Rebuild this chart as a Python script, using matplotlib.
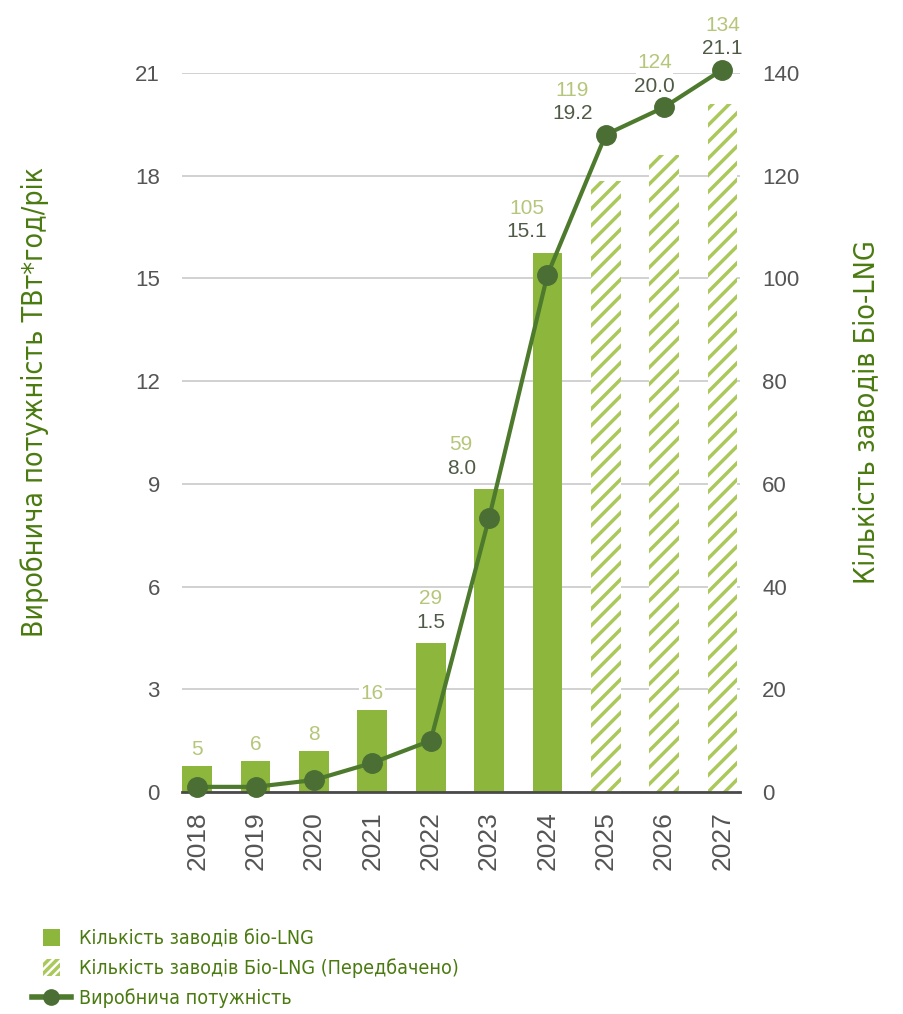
import numpy as np
import matplotlib
matplotlib.use('Agg')
import matplotlib.pyplot as plt
from matplotlib import font_manager
from matplotlib.font_manager import FontProperties
from matplotlib.patches import Patch, Rectangle
from matplotlib.lines import Line2D
from matplotlib.legend_handler import HandlerPatch

# дані: кількість заводів і виробнича потужність по роках
roky = ['2018', '2019', '2020', '2021', '2022', '2023', '2024', '2025', '2026', '2027']
zavody = [5, 6, 8, 16, 29, 59, 105, 119, 124, 134]
prognoz = [False, False, False, False, False, False, False, True, True, True]
potuzhnist = [0.15, 0.15, 0.35, 0.85, 1.5, 8.0, 15.1, 19.2, 20.0, 21.1]
pidpys_potuzhnosti = [False, False, False, False, True, True, True, True, True, True]

ZELENYI = '#8cb63c'
SHTRYKH = '#aac95a'
LINIJA = '#4e7a2e'
MARKER = '#4b6e35'
TEMNO_ZELENYI = '#4a7a10'
SVITLYI_PIDPYS = '#b5c67a'
TEMNYI_PIDPYS = '#4f5b46'
SIRYI = '#555555'

plt.rcParams['font.family'] = ['Liberation Sans', 'DejaVu Sans']
plt.rcParams['hatch.linewidth'] = 2.5

# вузький шрифт для назв осей і легенди, якщо є в системі
vuzkyi_fajl = None
for fe in font_manager.fontManager.ttflist:
    fn = fe.fname.lower()
    if ('condensed' in fn or 'narrow' in fn) and not any(
            s in fn for s in ['bold', 'oblique', 'italic', 'light', 'thin', 'black', 'medium']):
        vuzkyi_fajl = fe.fname
        break
if vuzkyi_fajl:
    vuzkyi = FontProperties(fname=vuzkyi_fajl)
else:
    vuzkyi = FontProperties(family='Roboto')

fig = plt.figure(figsize=(9.04, 10.14), dpi=100)
renderer = fig.canvas.get_renderer()


def rozmir(tekst, dovzhyna_px):
    # розмір шрифту, при якому текст займає задану довжину
    p = vuzkyi.copy()
    p.set_size(20)
    w, h, d = renderer.get_text_width_height_descent(tekst, p, ismath=False)
    return 20 * dovzhyna_px / w


ax = fig.add_axes([182 / 904, 1 - 792 / 1014, (740 - 182) / 904, (792 - 73) / 1014])
ax2 = ax.twinx()
ax.set_zorder(ax2.get_zorder() + 1)
ax.patch.set_visible(False)

x = np.arange(len(roky))

# стовпчики - права вісь
for i in range(len(roky)):
    if prognoz[i]:
        ax2.bar(x[i], zavody[i], width=0.51, facecolor='white',
                edgecolor=SHTRYKH, linewidth=0, hatch='//')
    else:
        ax2.bar(x[i], zavody[i], width=0.51, color=ZELENYI, linewidth=0)

# лінія потужності - ліва вісь
ax.plot(x, potuzhnist, color=LINIJA, lw=3, marker='o', ms=14,
        mfc=MARKER, mec=MARKER, zorder=4, clip_on=False)

ax.set_xlim(-0.26, 9.3)
ax.set_ylim(0, 21)
ax.set_yticks(range(0, 22, 3))
ax2.set_ylim(0, 140)
ax2.set_yticks(range(0, 141, 20))
ax.set_xticks(x)
ax.set_xticklabels(roky, rotation=90)

ax2.grid(axis='y', color='#cacaca', lw=1.2)
ax2.set_axisbelow(True)

for s in ax.spines.values():
    s.set_visible(False)
for s in ['top', 'left', 'right']:
    ax2.spines[s].set_visible(False)
ax2.spines['bottom'].set_color('#4a4a4a')
ax2.spines['bottom'].set_linewidth(2)

ax.tick_params(axis='y', length=0, pad=16, labelsize=16, labelcolor=SIRYI)
ax.tick_params(axis='x', length=0, pad=14, labelsize=19, labelcolor=SIRYI)
ax2.tick_params(axis='y', length=0, pad=16, labelsize=16, labelcolor=SIRYI)

# підписи над стовпчиками (зсув вліво, щоб не заходити на лінію)
zsuv = [0, 0, 0, 0, 0, -20, -15, -24, -7, 0]
for i in range(len(roky)):
    verh = zavody[i] * 21 / 140
    if pidpys_potuzhnosti[i]:
        verh = max(verh, potuzhnist[i])
        ax.annotate(f'{potuzhnist[i]:.1f}', (x[i], verh), xytext=(zsuv[i], 15),
                    textcoords='offset points', ha='center', va='center',
                    fontsize=15, color=TEMNYI_PIDPYS, zorder=3,
                    bbox=dict(fc='white', ec='none', pad=1), annotation_clip=False)
        dy = 32
    else:
        dy = 12
    ax.annotate(str(zavody[i]), (x[i], verh), xytext=(zsuv[i], dy),
                textcoords='offset points', ha='center', va='center',
                fontsize=15, color=SVITLYI_PIDPYS, zorder=3,
                bbox=dict(fc='white', ec='none', pad=1), annotation_clip=False)

# назви осей
nazva_l = 'Виробнича потужність ТВт*год/рік'
nazva_p = 'Кількість заводів Біо-LNG'
fig.text(35 / 904, 1 - 402 / 1014, nazva_l, rotation=90, ha='center', va='center',
         fontproperties=vuzkyi, fontsize=rozmir(nazva_l, 470), color=TEMNO_ZELENYI)
fig.text(866 / 904, 1 - 412 / 1014, nazva_p, rotation=90, ha='center', va='center',
         fontproperties=vuzkyi, fontsize=rozmir(nazva_p, 345), color=TEMNO_ZELENYI)


def kvadrat(legend, orig_handle, xdescent, ydescent, width, height, fontsize):
    a = 12
    return Rectangle((width / 2 - a / 2 - xdescent, height / 2 - a / 2 - ydescent), a, a)


handles = [
    Patch(facecolor=ZELENYI, edgecolor=ZELENYI, linewidth=0),
    Patch(facecolor='white', edgecolor=SHTRYKH, linewidth=0, hatch='////'),
    Line2D([0], [0], color=LINIJA, lw=4, marker='o', ms=11, mfc=MARKER, mec=MARKER),
]
labels = ['Кількість заводів біо-LNG', 'Кількість заводів Біо-LNG (Передбачено)',
          'Виробнича потужність']
leg_prop = vuzkyi.copy()
leg_prop.set_size(rozmir(labels[1], 380))
fig.legend(handles, labels, loc='upper left', bbox_to_anchor=(14 / 904, 1 - 912 / 1014),
           frameon=False, handlelength=2.0, handletextpad=0.4, labelspacing=0.5,
           prop=leg_prop, labelcolor=TEMNO_ZELENYI,
           handler_map={Patch: HandlerPatch(patch_func=kvadrat)})

plt.savefig('out.png', dpi=100)
